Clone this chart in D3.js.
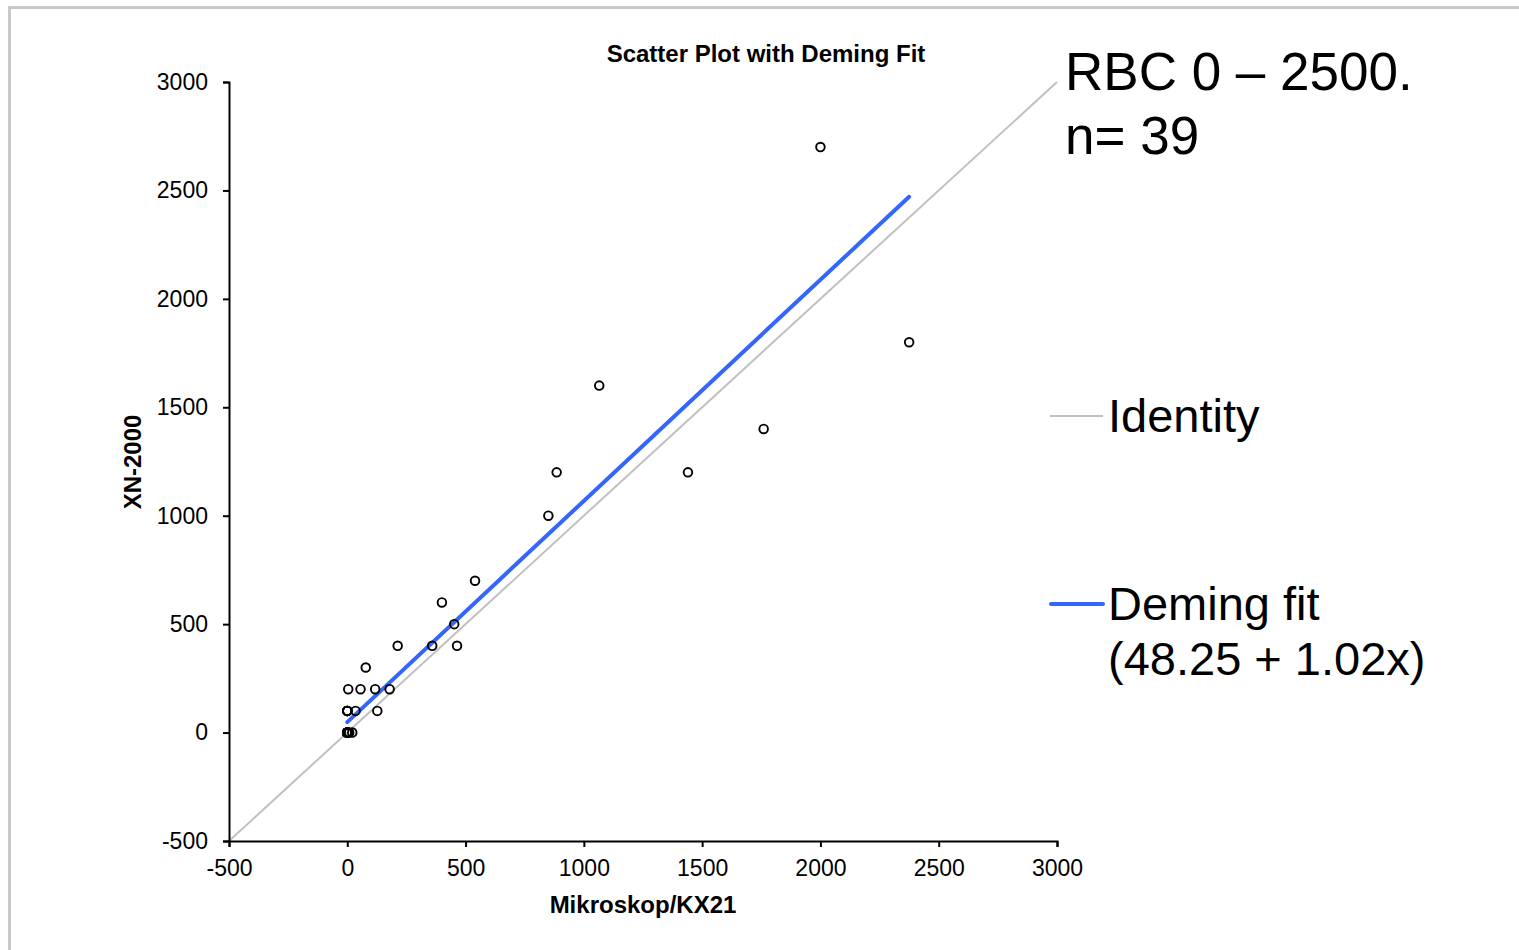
<!DOCTYPE html>
<html><head><meta charset="utf-8">
<script src="https://cdn.jsdelivr.net/npm/d3@7"></script>
<style>body{margin:0;background:#fff;}svg{display:block;font-family:"Liberation Sans",Arial,sans-serif;}</style>
</head><body>
<script>
// Data (Mikroskop/KX21 vs XN-2000), n = 39
const xValues = [2000,2375,1065,1760,1440,885,850,540,400,452,213,359,464,78,4,56,118,179,0,35,127,0,8,21,
                 0,0,0,0,0,0,0,0,0,0,0,0,0,0,0];
const yValues = [2700,1800,1600,1400,1200,1200,1000,700,600,500,400,400,400,300,200,200,200,200,100,100,100,0,0,0,
                 0,0,0,0,0,0,0,100,100,100,0,0,0,100,0];
const xTicks = [-500,0,500,1000,1500,2000,2500,3000];
const yTicks = [-500,0,500,1000,1500,2000,2500,3000];
const demingIntercept = 48.25, demingSlope = 1.02;
const titleText = "Scatter Plot with Deming Fit";
const xLabel = "Mikroskop/KX21", yLabel = "XN-2000";
const noteLines = ["RBC 0 \u2013 2500.", "n= 39"];
const legendItems = ["Identity", "Deming fit"];
const legendSub = "(48.25 + 1.02x)";

const W = 1519, H = 950;
const svg = d3.select("body").append("svg").attr("width", W).attr("height", H);
svg.append("rect").attr("x",9.5).attr("y",7.5).attr("width",W+20).attr("height",H+20)
   .attr("fill","none").attr("stroke","#c8c8c8").attr("stroke-width",3);

const x = d3.scaleLinear().domain([-500,3000]).range([229,1057]);
const y = d3.scaleLinear().domain([-500,3000]).range([841,82]);

// identity
svg.append("line").attr("x1",x(-500)).attr("y1",y(-500)).attr("x2",x(3000)).attr("y2",y(3000))
   .attr("stroke","#c0c0c0").attr("stroke-width",2);

// axes
const fmt = d => String(d);
const xAxis = svg.append("g").attr("transform",`translate(0,${y(-500)})`)
  .call(d3.axisBottom(x).tickValues(xTicks).tickSize(6).tickPadding(13).tickFormat(fmt));
const yAxis = svg.append("g").attr("transform",`translate(${x(-500)},0)`)
  .call(d3.axisLeft(y).tickValues(yTicks).tickSize(6).tickPadding(15).tickFormat(fmt));
[xAxis,yAxis].forEach(g=>{
  g.select(".domain").attr("stroke","#000").attr("stroke-width",2);
  g.selectAll(".tick line").attr("stroke","#000").attr("stroke-width",2);
  g.selectAll(".tick text").attr("font-size",23).attr("fill","#000").attr("font-family","Liberation Sans, Arial, sans-serif");
});

// deming fit
const xmin = d3.min(xValues), xmax = d3.max(xValues);
svg.append("line").attr("x1",x(xmin)).attr("y1",y(demingIntercept+demingSlope*xmin))
   .attr("x2",x(xmax)).attr("y2",y(demingIntercept+demingSlope*xmax))
   .attr("stroke","#3366ff").attr("stroke-width",4).attr("stroke-linecap","round");

// points
svg.append("g").selectAll("circle").data(xValues.map((v,i)=>[v,yValues[i]])).join("circle")
  .attr("cx",d=>x(d[0])).attr("cy",d=>y(d[1])).attr("r",4.3)
  .attr("fill","none").attr("stroke","#000").attr("stroke-width",1.9);

// titles
svg.append("text").attr("x",766).attr("y",62).attr("text-anchor","middle")
   .attr("font-size",24).attr("font-weight","bold").text(titleText);
svg.append("text").attr("x",643).attr("y",913).attr("text-anchor","middle")
   .attr("font-size",24).attr("font-weight","bold").text(xLabel);
svg.append("text").attr("transform","translate(141,462) rotate(-90)").attr("text-anchor","middle")
   .attr("font-size",24).attr("font-weight","bold").text(yLabel);

// note
noteLines.forEach((t,i)=>svg.append("text").attr("x",1065).attr("y",90+i*64)
   .attr("font-size",53).text(t));

// legend
svg.append("line").attr("x1",1050).attr("x2",1103).attr("y1",416).attr("y2",416)
   .attr("stroke","#c0c0c0").attr("stroke-width",2);
svg.append("text").attr("x",1108).attr("y",432).attr("font-size",47).text(legendItems[0]);
svg.append("line").attr("x1",1051).attr("x2",1103).attr("y1",604).attr("y2",604)
   .attr("stroke","#3366ff").attr("stroke-width",4).attr("stroke-linecap","round");
svg.append("text").attr("x",1108).attr("y",620).attr("font-size",47).text(legendItems[1]);
svg.append("text").attr("x",1108).attr("y",675).attr("font-size",47).text(legendSub);
</script>
</body></html>
